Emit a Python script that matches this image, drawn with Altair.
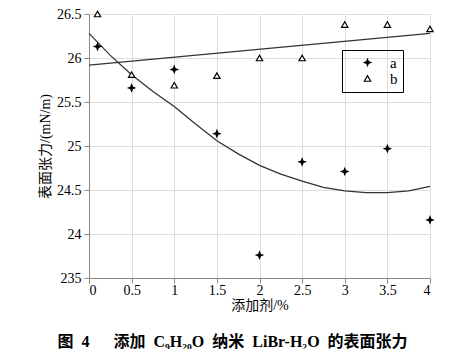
import altair as alt
import pandas as pd

# scatter data
x_pts = [0.1, 0.5, 1.0, 1.5, 2.0, 2.5, 3.0, 3.5, 4.0]
a_vals = [26.13, 25.66, 25.87, 25.14, 23.76, 24.82, 24.71, 24.97, 24.16]
b_vals = [26.50, 25.81, 25.69, 25.80, 26.00, 26.00, 26.38, 26.38, 26.33]

# fitted curve for a
curve_x = [0, 0.25, 0.5, 0.75, 1.0, 1.25, 1.5, 1.75, 2.0, 2.25, 2.5, 2.75, 3.0, 3.25, 3.5, 3.75, 4.0]
curve_a = [26.28, 26.03, 25.81, 25.62, 25.45, 25.25, 25.06, 24.91, 24.78, 24.68, 24.60, 24.53,
           24.49, 24.47, 24.47, 24.49, 24.54]

# fitted straight line for b
line_b_x = [0, 4]
line_b = [25.92, 26.28]

y_ticks = [23.5, 24, 24.5, 25, 25.5, 26, 26.5]
x_ticks = [0, 0.5, 1, 1.5, 2, 2.5, 3, 3.5, 4]

pts = pd.DataFrame({
    "x": x_pts * 2,
    "y": a_vals + b_vals,
    "s": ["a"] * len(x_pts) + ["b"] * len(x_pts),
})
lines = pd.DataFrame({
    "x": curve_x + line_b_x,
    "y": curve_a + line_b,
    "s": ["a"] * len(curve_x) + ["b"] * len(line_b_x),
})

serif = "Liberation Serif, DejaVu Serif, serif"
mixed = "Liberation Serif, Noto Sans CJK SC"

xs = alt.Scale(domain=[0, 4], nice=False)
ys = alt.Scale(domain=[23.5, 26.5], nice=False, zero=False)

xaxis = alt.Axis(values=x_ticks, labelExpr="'' + datum.value", title="添加剂/%",
                 titleFont=mixed, titleFontSize=14, titleFontWeight="normal", titlePadding=1,
                 labelPadding=0, labelFont=serif, labelFontSize=14)
yaxis = alt.Axis(values=y_ticks, labelExpr="datum.value == 23.5 ? '235' : '' + datum.value",
                 title="表面张力/(mN/m)", titleFont=mixed, titleFontSize=14,
                 titleFontWeight="normal", titlePadding=4, labelPadding=3,
                 labelFont=serif, labelFontSize=14)

star = "M0,-1L0.28,-0.28L1,0L0.28,0.28L0,1L-0.28,0.28L-1,0L-0.28,-0.28Z"


def make_legend():
    return alt.Legend(title=None, orient="none", legendX=253, legendY=36,
                      strokeColor="black", padding=5, rowPadding=0,
                      labelFont=serif, labelFontSize=15, labelColor="black", symbolSize=40,
                      symbolStrokeColor="black", symbolStrokeWidth=1.2,
                      symbolOffset=13, labelOffset=15, cornerRadius=0,
                      labelExpr="datum.label + '\u2002\u2002\u2002'")


line_layer = alt.Chart(lines).mark_line(color="#333333", strokeWidth=1.3).encode(
    x=alt.X("x:Q", scale=xs, axis=xaxis),
    y=alt.Y("y:Q", scale=ys, axis=yaxis),
    detail="s:N",
)

point_layer = alt.Chart(pts).mark_point(size=40, strokeWidth=1.2, opacity=1).encode(
    x=alt.X("x:Q", scale=xs),
    y=alt.Y("y:Q", scale=ys),
    shape=alt.Shape("s:N", scale=alt.Scale(domain=["a", "b"], range=[star, "triangle-up"]),
                    legend=make_legend()),
    fill=alt.Fill("s:N", scale=alt.Scale(domain=["a", "b"], range=["black", "white"]),
                  legend=make_legend()),
    stroke=alt.Stroke("s:N", scale=alt.Scale(domain=["a", "b"], range=["black", "black"]),
                      legend=make_legend()),
)

caption = "图\u20024\u3000\u2002添加\u2002C₉H₂₀O\u2002纳米\u2002LiBr-H₂O\u2002的表面张力"

chart = alt.layer(line_layer, point_layer).properties(
    width=341,
    height=264,
    autosize=alt.AutoSizeParams(type="none"),
    padding={"left": 81, "top": 6, "right": 28, "bottom": 71},
    title=alt.TitleParams(
        text=caption,
        orient="bottom", anchor="middle", frame="group", dx=-27, offset=22,
        font=mixed, fontSize=16, fontWeight="bold", color="black",
    ),
).configure_view(
    stroke="black", strokeWidth=1.5
).configure_axis(
    domainColor="black", domainWidth=1.5, tickColor="black", tickSize=3,
    labelColor="black", titleColor="black", grid=False,
).configure(background="white")

chart.save("out.html", embed_options={"renderer": "svg", "actions": False})
